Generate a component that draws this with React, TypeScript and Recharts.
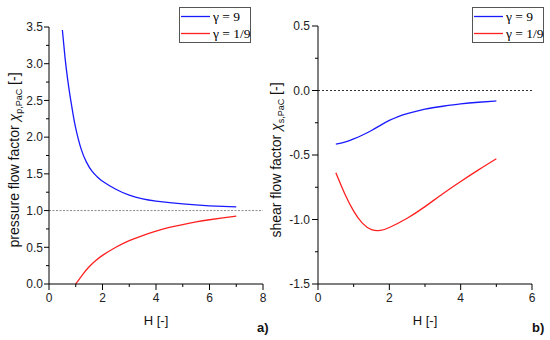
import { LineChart, Line, XAxis, YAxis, ReferenceLine } from "recharts";

// panel a) pressure flow factor
const H_A_G9 = [0.5, 0.6, 0.7, 0.8, 0.9, 1.0, 1.2, 1.4, 1.6, 1.8, 2.0, 2.5, 3.0, 3.5, 4.0, 5.0, 6.0, 7.0];
const CHI_A_G9 = [3.46, 3.08, 2.78, 2.53, 2.31, 2.12, 1.84, 1.66, 1.54, 1.46, 1.4, 1.29, 1.21, 1.16, 1.13, 1.09, 1.065, 1.05];
const H_A_G19 = [1.0, 1.25, 1.5, 1.75, 2.0, 2.5, 3.0, 3.5, 4.0, 4.5, 5.0, 5.5, 6.0, 6.5, 7.0];
const CHI_A_G19 = [0.0, 0.125, 0.235, 0.32, 0.39, 0.5, 0.59, 0.66, 0.72, 0.77, 0.81, 0.845, 0.875, 0.901, 0.925];

// panel b) shear flow factor
const H_B_G9 = [0.5, 0.75, 1.0, 1.25, 1.5, 1.75, 2.0, 2.25, 2.5, 3.0, 3.5, 4.0, 4.5, 5.0];
const CHI_B_G9 = [-0.415, -0.4, -0.375, -0.345, -0.31, -0.27, -0.232, -0.202, -0.18, -0.145, -0.122, -0.104, -0.091, -0.081];
const H_B_G19 = [0.5, 0.75, 1.0, 1.25, 1.5, 1.75, 2.0, 2.5, 3.0, 3.5, 4.0, 4.5, 5.0];
const CHI_B_G19 = [-0.637, -0.8, -0.935, -1.03, -1.078, -1.085, -1.062, -0.99, -0.9, -0.8, -0.705, -0.615, -0.529];

const X_TICKS_A = [0, 1, 2, 3, 4, 5, 6, 7, 8];
const Y_TICKS_A = [0, 0.25, 0.5, 0.75, 1, 1.25, 1.5, 1.75, 2, 2.25, 2.5, 2.75, 3, 3.25, 3.5];
const X_TICKS_B = [0, 1, 2, 3, 4, 5, 6];
const Y_TICKS_B = [-1.5, -1.25, -1, -0.75, -0.5, -0.25, 0, 0.25, 0.5];

const NAMES = ["γ = 9", "γ = 1/9"];
const COLORS = ["#1a1aff", "#ff2020"];

const FONT = "Liberation Sans, Arial, Helvetica, sans-serif";
const SERIF = "'Liberation Serif', 'DejaVu Serif', serif";

const toPts = (hs: number[], vs: number[]) => hs.map((h, i) => ({ h, v: vs[i] }));

const isMajor = (v: number, step: number) => Math.abs(v / step - Math.round(v / step)) < 1e-9;

function xTick(size: number, margin: number, step: number) {
  return (props: any) => {
    const { x, y, payload } = props;
    const v = payload.value;
    const major = isMajor(v, step);
    const axisY = y - size - margin;
    return (
      <g>
        <line x1={x} x2={x} y1={axisY} y2={axisY + (major ? size : 3)} stroke="#000" />
        {major && (
          <text x={x} y={y} dy="0.71em" textAnchor="middle" fontSize={12} fontFamily={FONT} fill="#222">
            {v}
          </text>
        )}
      </g>
    );
  };
}

function yTick(size: number, margin: number, step: number) {
  return (props: any) => {
    const { x, y, payload } = props;
    const v = payload.value;
    const major = isMajor(v, step);
    const axisX = x + size + margin;
    return (
      <g>
        <line x1={axisX} x2={axisX - (major ? size : 3)} y1={y} y2={y} stroke="#000" />
        {major && (
          <text x={x} y={y} dy="0.355em" textAnchor="end" fontSize={12} fontFamily={FONT} fill="#222">
            {v.toFixed(1)}
          </text>
        )}
      </g>
    );
  };
}

function yTitle(main: string, sub: string, baseX: number, centerY: number) {
  return () => (
    <text
      x={baseX}
      y={centerY}
      transform={`rotate(-90 ${baseX} ${centerY})`}
      textAnchor="middle"
      fontSize={14}
      fontFamily={FONT}
      fill="#111"
    >
      {main}
      <tspan fontStyle="italic">χ</tspan>
      <tspan dy={3} fontSize={9}>{sub}</tspan>
      <tspan dy={-3}> [-]</tspan>
    </text>
  );
}

function xTitle(text: string) {
  return (p: any) => {
    const vb = p.viewBox;
    return (
      <text x={vb.x + vb.width / 2} y={vb.y + 41} textAnchor="middle" fontSize={13} fontFamily={FONT} fill="#111">
        {text}
      </text>
    );
  };
}

// legend drawn as svg so the serif text renders the same way as the axes
function LegendBox({ left }: { left: number }) {
  return (
    <svg width={72} height={36} style={{ position: "absolute", left, top: 7 }}>
      <rect x={0.5} y={0.5} width={71} height={35} fill="#fff" stroke="#555" />
      {NAMES.map((n, i) => (
        <g key={n}>
          <line x1={2} x2={31} y1={9.5 + i * 17} y2={9.5 + i * 17} stroke={COLORS[i]} strokeWidth={1.3} />
          <text x={34} y={9.5 + i * 17} dy="0.35em" fontFamily={SERIF} fontSize={13.5} fill="#000">
            {n}
          </text>
        </g>
      ))}
    </svg>
  );
}

const tagStyle = {
  position: "absolute" as const,
  top: 321,
  fontFamily: FONT,
  fontWeight: 700,
  fontSize: 13,
  lineHeight: "13px",
  color: "#111",
};

export default function App() {
  return (
    <div style={{ position: "absolute", left: 0, top: 0, width: 550, height: 340, background: "#fff" }}>
      <div style={{ position: "absolute", left: 0, top: 0 }}>
        <LineChart width={275} height={340} margin={{ top: 27, right: 12, bottom: 0, left: 0 }}>
          <XAxis
            type="number"
            dataKey="h"
            domain={[0, 8]}
            ticks={X_TICKS_A}
            interval={0}
            tickLine={false}
            tickSize={6}
            tickMargin={3}
            tick={xTick(6, 3, 2)}
            axisLine={{ stroke: "#000" }}
            height={56}
            label={{ content: xTitle("H [-]") }}
          />
          <YAxis
            type="number"
            domain={[0, 3.5]}
            ticks={Y_TICKS_A}
            interval={0}
            tickLine={false}
            tickSize={5}
            tickMargin={1}
            tick={yTick(5, 1, 0.5)}
            axisLine={{ stroke: "#000" }}
            width={49}
            label={{ content: yTitle("pressure flow factor ", "p,PaC", 19, 160) }}
          />
          <ReferenceLine y={1} stroke="#888" strokeDasharray="2 1.5" />
          <Line
            data={toPts(H_A_G9, CHI_A_G9)}
            dataKey="v"
            type="natural"
            stroke={COLORS[0]}
            strokeWidth={1.3}
            dot={false}
            isAnimationActive={false}
          />
          <Line
            data={toPts(H_A_G19, CHI_A_G19)}
            dataKey="v"
            type="natural"
            stroke={COLORS[1]}
            strokeWidth={1.3}
            dot={false}
            isAnimationActive={false}
          />
        </LineChart>
      </div>
      <div style={{ position: "absolute", left: 268, top: 0 }}>
        <LineChart width={282} height={340} margin={{ top: 26, right: 18, bottom: 0, left: 0 }}>
          <XAxis
            type="number"
            dataKey="h"
            domain={[0, 6]}
            ticks={X_TICKS_B}
            interval={0}
            tickLine={false}
            tickSize={6}
            tickMargin={3}
            tick={xTick(6, 3, 2)}
            axisLine={{ stroke: "#000" }}
            height={56}
            label={{ content: xTitle("H [-]") }}
          />
          <YAxis
            type="number"
            domain={[-1.5, 0.5]}
            ticks={Y_TICKS_B}
            interval={0}
            tickLine={false}
            tickSize={6}
            tickMargin={2}
            tick={yTick(6, 2, 0.5)}
            axisLine={{ stroke: "#000" }}
            width={50}
            label={{ content: yTitle("shear flow factor ", "s,PaC", 13, 160) }}
          />
          <ReferenceLine y={0} stroke="#333" strokeDasharray="2 2" />
          <Line
            data={toPts(H_B_G9, CHI_B_G9)}
            dataKey="v"
            type="natural"
            stroke={COLORS[0]}
            strokeWidth={1.3}
            dot={false}
            isAnimationActive={false}
          />
          <Line
            data={toPts(H_B_G19, CHI_B_G19)}
            dataKey="v"
            type="natural"
            stroke={COLORS[1]}
            strokeWidth={1.3}
            dot={false}
            isAnimationActive={false}
          />
        </LineChart>
      </div>
      <LegendBox left={179} />
      <LegendBox left={472} />
      <div style={{ ...tagStyle, left: 257 }}>a)</div>
      <div style={{ ...tagStyle, left: 532 }}>b)</div>
    </div>
  );
}
